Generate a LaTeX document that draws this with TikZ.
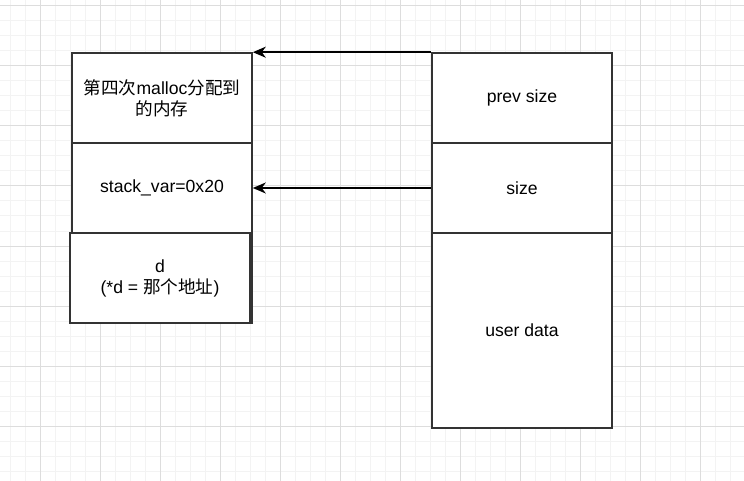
\documentclass[tikz,border=0pt]{standalone}
\usepackage{fontspec}
\setmainfont{Liberation Sans}
\newfontfamily\cjk{Noto Sans CJK SC}
\usetikzlibrary{positioning,arrows.meta}
\definecolor{ink}      {HTML}{000000}
\definecolor{edge}     {HTML}{333333}
\definecolor{gridmaj}  {HTML}{DDDDDD}
\definecolor{gridmin}  {HTML}{F3F3F3}
\tikzset{
  cell/.style  = {draw=edge, fill=white, line width=1.6pt, text=ink,
                  minimum width=180pt, minimum height=90pt, inner sep=2pt,
                  align=center, font=\fontsize{17.6}{21}\selectfont},
  link/.style  = {-{Stealth[length=13pt, width=11pt, inset=4pt]}, draw=ink, line width=1.5pt},
  minor/.style = {draw=gridmin, line width=1pt},
  major/.style = {draw=gridmaj, line width=1pt},
}

\begin{document}
\begin{tikzpicture}[x=1pt, y=-1pt]
  \useasboundingbox[fill=white] (0,0) rectangle (744,481);

  % grid
  \foreach \gx in {10,25,...,740} \draw[minor] (\gx,0) -- (\gx,481);
  \foreach \gy in {6,21,...,481} \draw[minor] (0,\gy) -- (744,\gy);
  \foreach \gx in {40,100,...,740} \draw[major] (\gx,0) -- (\gx,481);
  \foreach \gy in {6,66,...,481} \draw[major] (0,\gy) -- (744,\gy);

  % left column
  \node[cell] (fourth) at (162,98) {{\cjk 第四次}malloc{\cjk 分配到}\\{\cjk 的内存}};
  \node[cell] (stackvar) at (162,188) {stack\_var=0x20};
  \draw[draw=edge, line width=1.6pt] (72,233) rectangle (252,323);
  \node[cell] (dptr) at (160,278) {d\\(*d = {\cjk 那个地址})};

  % right column (chunk)
  \node[cell] (prevsize) at (522,98) {prev size};
  \node[cell] (size) at (522,188) {size};
  \node[cell, minimum height=195pt] (userdata) at (522,330.5) {user data};

  % arrows
  \draw[link] (prevsize.north west) -- (fourth.north east);
  \draw[link] (size.west) -- (stackvar.east);
\end{tikzpicture}
\end{document}
